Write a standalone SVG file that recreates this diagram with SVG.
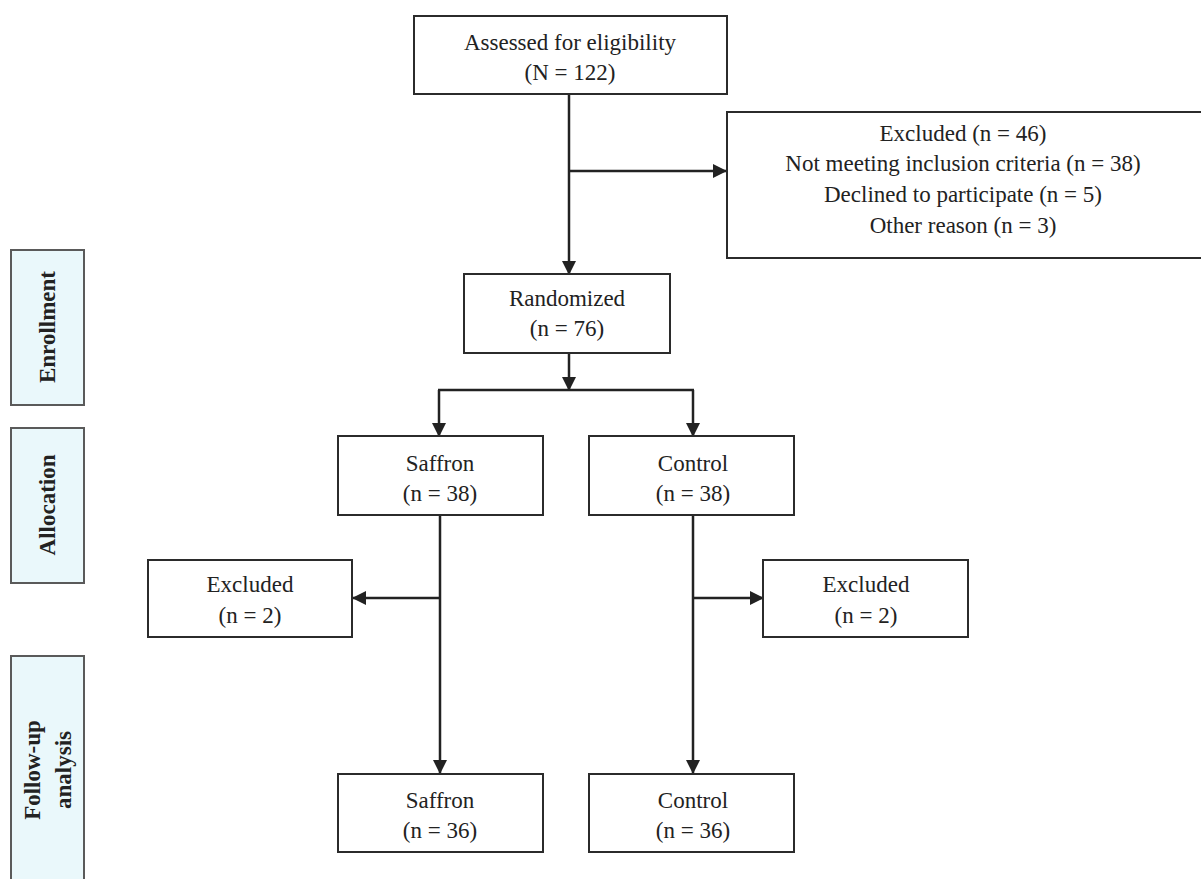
<svg xmlns="http://www.w3.org/2000/svg" width="1201" height="879" viewBox="0 0 1201 879">
<defs>
<marker id="ah" markerWidth="14" markerHeight="14" refX="13" refY="7" orient="auto" markerUnits="userSpaceOnUse">
<path d="M0,0 L14,7 L0,14 Z" fill="#222"/>
</marker>
</defs>
<style>
.box{fill:#fff;stroke:#2b2b2b;stroke-width:2}
.side{fill:#eaf8fb;stroke:#5a5a5a;stroke-width:2}
.t{font-family:"Liberation Serif","DejaVu Serif",serif;font-size:23px;fill:#222;text-anchor:middle}
.s{font-family:"Liberation Serif","DejaVu Serif",serif;font-size:23px;font-weight:bold;fill:#222;text-anchor:middle}
.c{stroke:#222;stroke-width:2.5;fill:none}
.ca{stroke:#222;stroke-width:2.5;fill:none;marker-end:url(#ah)}
</style>
<rect width="1201" height="879" fill="#fff"/>

<g id="side-enrollment">
<rect class="side" x="11" y="250" width="73" height="155"/>
<text class="s" transform="translate(55,327) rotate(-90)">Enrollment</text>
</g>
<g id="side-allocation">
<rect class="side" x="11" y="428" width="73" height="155"/>
<text class="s" transform="translate(55,505) rotate(-90)">Allocation</text>
</g>
<g id="side-followup">
<rect class="side" x="11" y="656" width="73" height="240"/>
<text class="s" transform="translate(40,770) rotate(-90)">Follow-up</text>
<text class="s" transform="translate(71,770) rotate(-90)">analysis</text>
</g>

<g id="connectors">
<line class="c" x1="569" y1="94" x2="569" y2="171"/>
<line class="ca" x1="569" y1="171" x2="726" y2="171"/>
<line class="ca" x1="569" y1="171" x2="569" y2="274"/>
<line class="ca" x1="569" y1="353" x2="569" y2="390"/>
<line class="c" x1="438" y1="390" x2="694" y2="390"/>
<line class="ca" x1="439" y1="390" x2="439" y2="436"/>
<line class="ca" x1="693" y1="390" x2="693" y2="436"/>
<line class="ca" x1="440" y1="515" x2="440" y2="773"/>
<line class="ca" x1="440" y1="598" x2="353" y2="598"/>
<line class="ca" x1="693" y1="515" x2="693" y2="773"/>
<line class="ca" x1="693" y1="598" x2="763" y2="598"/>
</g>

<g id="assessed">
<rect class="box" x="414" y="16" width="313" height="78"/>
<text class="t" x="570" y="50">Assessed for eligibility</text>
<text class="t" x="570" y="80">(N = 122)</text>
</g>
<g id="excluded-main">
<rect class="box" x="727" y="112" width="480" height="146"/>
<text class="t" x="963" y="141">Excluded (n = 46)</text>
<text class="t" x="963" y="171">Not meeting inclusion criteria (n = 38)</text>
<text class="t" x="963" y="202">Declined to participate (n = 5)</text>
<text class="t" x="963" y="233">Other reason (n = 3)</text>
</g>
<g id="randomized">
<rect class="box" x="464" y="274" width="206" height="79"/>
<text class="t" x="567" y="306">Randomized</text>
<text class="t" x="567" y="336">(n = 76)</text>
</g>
<g id="saffron-alloc">
<rect class="box" x="338" y="436" width="205" height="79"/>
<text class="t" x="440" y="471">Saffron</text>
<text class="t" x="440" y="501">(n = 38)</text>
</g>
<g id="control-alloc">
<rect class="box" x="589" y="436" width="205" height="79"/>
<text class="t" x="693" y="471">Control</text>
<text class="t" x="693" y="501">(n = 38)</text>
</g>
<g id="excluded-saffron">
<rect class="box" x="148" y="560" width="204" height="77"/>
<text class="t" x="250" y="592">Excluded</text>
<text class="t" x="250" y="623">(n = 2)</text>
</g>
<g id="excluded-control">
<rect class="box" x="763" y="560" width="205" height="77"/>
<text class="t" x="866" y="592">Excluded</text>
<text class="t" x="866" y="623">(n = 2)</text>
</g>
<g id="saffron-follow">
<rect class="box" x="338" y="774" width="205" height="78"/>
<text class="t" x="440" y="808">Saffron</text>
<text class="t" x="440" y="838">(n = 36)</text>
</g>
<g id="control-follow">
<rect class="box" x="589" y="774" width="205" height="78"/>
<text class="t" x="693" y="808">Control</text>
<text class="t" x="693" y="838">(n = 36)</text>
</g>
</svg>
